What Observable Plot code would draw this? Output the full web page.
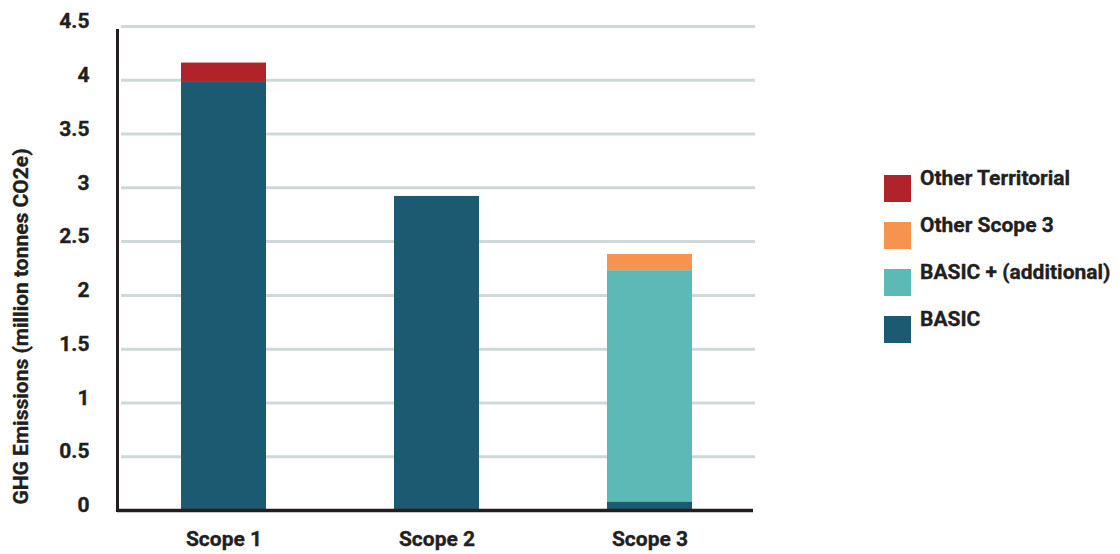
<!DOCTYPE html>
<html>
<head>
<meta charset="utf-8">
<script src="https://cdn.jsdelivr.net/npm/d3@7"></script>
<script src="https://cdn.jsdelivr.net/npm/@observablehq/plot@0.6"></script>
<style>
  html, body { margin: 0; padding: 0; background: #fff; }
  #chart { position: relative; width: 1120px; height: 554px; font-family: Roboto, "Liberation Sans", sans-serif; color: #231f20; }
  #chart svg { font-family: Roboto, "Liberation Sans", sans-serif; font-weight: bold; }
  #chart svg text { stroke: #231f20; stroke-width: 0.35px; }
  .legend { position: absolute; left: 884px; top: 175px; }
  .legend .item { position: relative; height: 27px; margin-bottom: 20px; }
  .legend .sw { position: absolute; left: 0; top: 0; width: 27px; height: 27px; }
  .legend .lab { position: absolute; left: 36px; top: -7px; font-size: 21px; line-height: 21px; font-weight: bold; white-space: nowrap; -webkit-text-stroke: 0.35px #231f20; }
</style>
</head>
<body>
<div id="chart"></div>
<script>
// Emission scopes along the x axis
const scopes = ["Scope 1", "Scope 2", "Scope 3"];

// Stack series, bottom to top
const seriesNames = ["BASIC", "BASIC + (additional)", "Other Scope 3", "Other Territorial"];
const seriesColors = ["#1c5a72", "#5db9b6", "#f79351", "#b1232b"];

// Values in million tonnes CO2e, one per scope
const basic = [3.98, 2.92, 0.08];
const basicAdditional = [0, 0, 2.15];
const otherScope3 = [0, 0, 0.15];
const otherTerritorial = [0.18, 0, 0];

// Y axis ticks
const yTicks = [0, 0.5, 1, 1.5, 2, 2.5, 3, 3.5, 4, 4.5];
const yLabel = "GHG Emissions (million tonnes CO2e)";

const seriesValues = [basic, basicAdditional, otherScope3, otherTerritorial];
const rows = seriesNames.flatMap((name, s) =>
  scopes.map((scope, i) => ({scope, series: name, value: seriesValues[s][i]}))
);

const plot = Plot.plot({
  width: 1120,
  height: 554,
  marginLeft: 117,
  marginRight: 363,
  marginTop: 26,
  marginBottom: 44,
  style: {color: "#231f20", background: "#fff"},
  x: {domain: scopes, paddingInner: 0.6, paddingOuter: 0.3, label: null},
  y: {domain: [0, 4.5], label: null},
  color: {domain: seriesNames, range: seriesColors},
  marks: [
    Plot.ruleY(yTicks.filter(d => d > 0), {stroke: "#d0d9da", strokeWidth: 3, insetLeft: 4, insetRight: 2}),
    Plot.barY(rows, {x: "scope", y: "value", fill: "series"}),
    Plot.frame({anchor: "left", stroke: "#231f20", strokeWidth: 3, insetTop: 4}),
    Plot.ruleY([0], {stroke: "#231f20", strokeWidth: 3.5, insetRight: 4}),
    Plot.axisY({ticks: yTicks, tickSize: 0, tickPadding: 28, fontSize: 21, dy: -5, tickFormat: d => String(d), label: null}),
    Plot.axisX({tickSize: 0, tickPadding: 21, fontSize: 21, label: null}),
    Plot.text([yLabel], {frameAnchor: "left", textAnchor: "middle", rotate: -90, dx: -96, dy: 58, fontSize: 21, fontWeight: "bold", fill: "#231f20"})
  ]
});

const chart = document.getElementById("chart");
chart.appendChild(plot);

// Legend, top item is the top of the stack
const colorScale = plot.scale("color");
const legend = document.createElement("div");
legend.className = "legend";
colorScale.domain.slice().reverse().forEach(name => {
  const item = document.createElement("div");
  item.className = "item";
  const sw = document.createElement("div");
  sw.className = "sw";
  sw.style.background = colorScale.apply(name);
  const lab = document.createElement("div");
  lab.className = "lab";
  lab.textContent = name;
  item.appendChild(sw);
  item.appendChild(lab);
  legend.appendChild(item);
});
chart.appendChild(legend);
</script>
</body>
</html>
